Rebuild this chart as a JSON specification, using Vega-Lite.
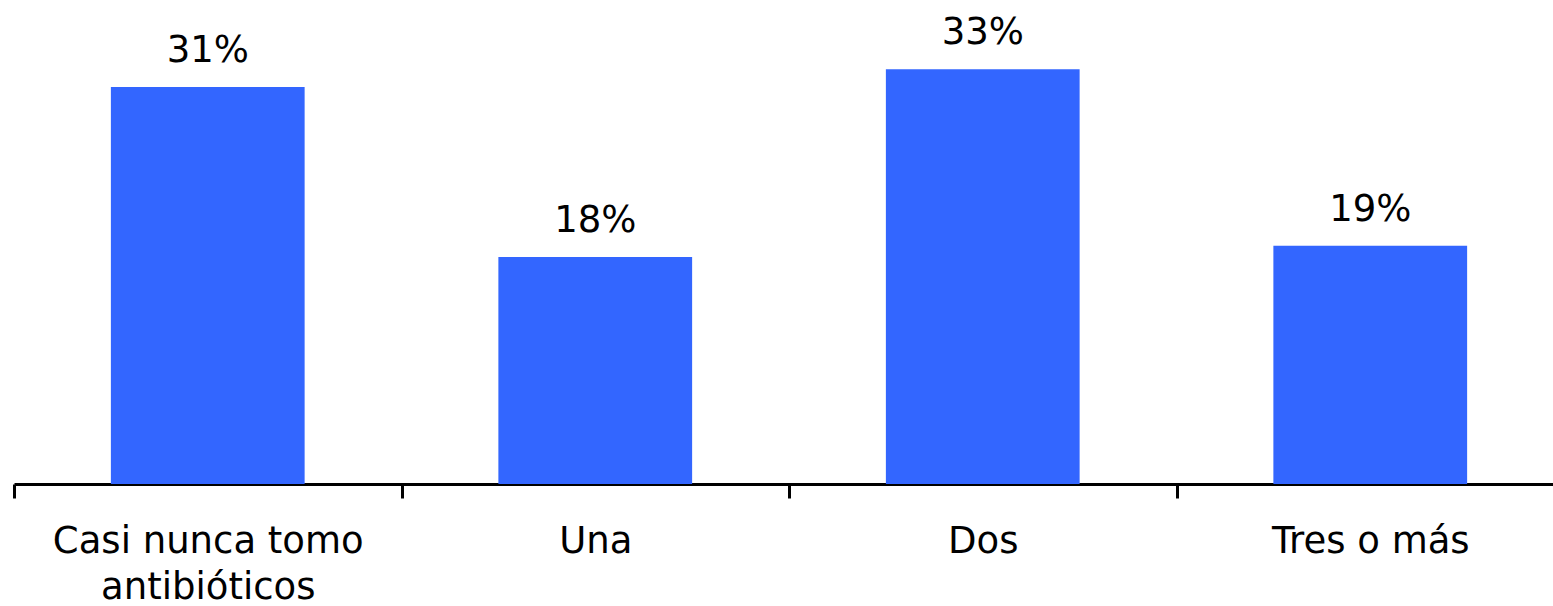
{
  "$schema": "https://vega.github.io/schema/vega-lite/v6.json",
  "autosize": {"type": "none"},
  "padding": {"left": 14, "top": 5, "right": 0, "bottom": 122},
  "width": 1550,
  "height": 479,
  "background": "white",
  "config": {"view": {"stroke": null}, "font": "DejaVu Sans"},
  "data": {"values": [
    {"cat": "Casi nunca tomo antibióticos", "value": 31.5, "label": "31%"},
    {"cat": "Una", "value": 18.0, "label": "18%"},
    {"cat": "Dos", "value": 32.9, "label": "33%"},
    {"cat": "Tres o más", "value": 18.9, "label": "19%"}
  ]},
  "encoding": {
    "x": {"field": "cat", "type": "nominal", "sort": null,
      "scale": {"paddingInner": 0, "paddingOuter": 0},
      "axis": {"title": null, "labelAngle": 0, "domainColor": "#000000", "domainWidth": 3,
        "tickColor": "#000000", "tickWidth": 3, "tickSize": 14, "tickBand": "extent",
        "labelFont": "DejaVu Sans", "labelFontSize": 37, "labelColor": "#000000", "labelPadding": 25,
        "labelLineHeight": 46, "labelLimit": 1000,
        "labelExpr": "datum.value == 'Casi nunca tomo antibióticos' ? ['Casi nunca tomo', 'antibióticos'] : datum.value"}},
    "y": {"field": "value", "type": "quantitative", "scale": {"domain": [0, 38], "nice": false}, "axis": null}
  },
  "layer": [
    {"mark": {"type": "bar", "color": "#3366FF", "width": {"band": 0.5}}},
    {"mark": {"type": "text", "baseline": "alphabetic", "dy": -25, "fontSize": 37, "font": "DejaVu Sans", "color": "#000000"},
     "encoding": {"text": {"field": "label"}}}
  ]
}
